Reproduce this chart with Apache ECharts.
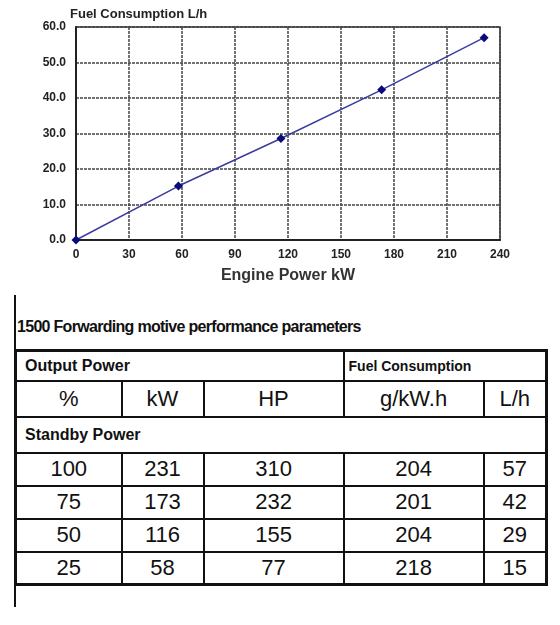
<!DOCTYPE html>
<html><head><meta charset="utf-8">
<script src="https://cdn.jsdelivr.net/npm/echarts@6/dist/echarts.min.js"></script>
<style>
body{margin:0;background:#fff;font-family:"Liberation Sans",Arial,sans-serif;}
#wrap{position:relative;width:560px;height:625px;}
#chart{position:absolute;left:0;top:0;width:560px;height:295px;}
#vline{position:absolute;left:14px;top:295px;width:2px;height:312px;background:#111;}
#ttl{position:absolute;left:17px;top:318px;font-size:16px;font-weight:bold;letter-spacing:-0.7px;color:#111;}
table{position:absolute;left:14px;top:349px;width:531px;table-layout:fixed;border-collapse:collapse;border:3px solid #111;box-sizing:border-box;}
td{border:2px solid #111;padding:0;text-align:center;font-size:22px;color:#111;height:33px;box-sizing:border-box;}
td.h{font-weight:bold;font-size:16px;text-align:left;padding-left:8px;height:30px;}
</style></head><body>
<div id="wrap">
<div id="chart"></div>
<div id="vline"></div>
<div id="ttl">1500 Forwarding motive performance parameters</div>
<table id="tbl"></table>
</div>
<script>
const powerKW = [0, 58, 116, 173, 231];
const fuelLh = [0, 15.2, 28.6, 42.3, 57.0];
const xTicks = [0, 30, 60, 90, 120, 150, 180, 210, 240];
const yTicks = [0, 10, 20, 30, 40, 50, 60];
const colHeaders = ['%', 'kW', 'HP', 'g/kW.h', 'L/h'];
const rowPct = [100, 75, 50, 25];
const rowKW = [231, 173, 116, 58];
const rowHP = [310, 232, 155, 77];
const rowGkwh = [204, 201, 204, 218];
const rowLh = [57, 42, 29, 15];

const chart = echarts.init(document.getElementById('chart'));
const grid = {color:'#444', type:[3,1], width:1.5};
chart.setOption({
  animation:false,
  grid:{left:76, right:60, top:27, bottom:55},
  title:{text:'Fuel Consumption L/h', left:65, top:3, textStyle:{fontSize:13, fontWeight:'bold', color:'#222', fontFamily:'Liberation Sans'}},
  xAxis:{type:'value', min:0, max:240, interval:30, name:'Engine Power kW', nameLocation:'middle', nameGap:28,
    nameTextStyle:{fontSize:16, fontWeight:'bold', color:'#333', fontFamily:'Liberation Sans'},
    axisLine:{lineStyle:{color:'#222', width:2}}, axisTick:{show:false},
    axisLabel:{fontSize:12, fontWeight:'bold', color:'#222', margin:9},
    splitLine:{show:true, lineStyle:grid}},
  yAxis:{type:'value', min:0, max:60, interval:10,
    axisLine:{show:true, lineStyle:{color:'#222', width:2}}, axisTick:{show:false},
    axisLabel:{fontSize:12, fontWeight:'bold', color:'#222', formatter:v=>v.toFixed(1), margin:10},
    splitLine:{show:true, lineStyle:grid}},
  series:[{type:'line', data:powerKW.map((x,i)=>[x,fuelLh[i]]), symbol:'diamond', symbolSize:9,
    lineStyle:{color:'#3c3ca0', width:1.5}, itemStyle:{color:'#0a0a7a'}}],
  graphic:[{type:'rect', shape:{x:76,y:27,width:424,height:213}, style:{fill:'none', stroke:'#333', lineWidth:1.5}, silent:true}]
});

const widths=[106,82,140,140,63];
let h='<colgroup>'+widths.map(w=>`<col style="width:${w}px">`).join('')+'</colgroup>';
h+='<tr><td class="h" colspan="3">Output Power</td><td class="h" colspan="2" style="font-size:14px;padding-left:4px">Fuel Consumption</td></tr>';
h+='<tr>'+colHeaders.map(c=>`<td style="height:36px">${c}</td>`).join('')+'</tr>';
h+='<tr><td class="h" colspan="5" style="height:36px">Standby Power</td></tr>';
rowPct.forEach((p,i)=>{h+=`<tr><td>${p}</td><td>${rowKW[i]}</td><td>${rowHP[i]}</td><td>${rowGkwh[i]}</td><td>${rowLh[i]}</td></tr>`;});
document.getElementById('tbl').innerHTML=h;
</script>
</body></html>
